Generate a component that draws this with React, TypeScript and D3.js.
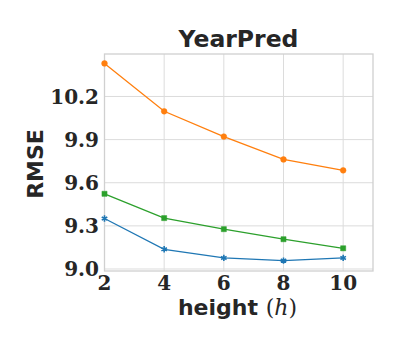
import React from "react";
import * as d3 from "d3";

const heights = [2, 4, 6, 8, 10];
const seriesBlue = [9.351, 9.137, 9.077, 9.058, 9.077];
const seriesOrange = [10.43, 10.097, 9.921, 9.762, 9.686];
const seriesGreen = [9.523, 9.354, 9.277, 9.207, 9.144];
const xTicks = [2, 4, 6, 8, 10];
const yTicks = [9.0, 9.3, 9.6, 9.9, 10.2];

const W = 400, H = 350;
const left = 104.5, right = 373, top = 54, bottom = 271;

export default function App() {
  const x = d3.scaleLinear().domain([2, 11]).range([left, right]);
  const y = d3.scaleLinear().domain([8.986, 10.4955]).range([bottom, top]);
  const line = d3.line<number>().x((_, i) => x(heights[i])).y((d) => y(d));
  const series = [
    { vals: seriesBlue, color: "#1f77b4", marker: "star" },
    { vals: seriesGreen, color: "#2ca02c", marker: "square" },
    { vals: seriesOrange, color: "#ff7f0e", marker: "circle" },
  ];
  const star = d3.symbol().type(d3.symbolAsterisk).size(28)();
  const sq = d3.symbol().type(d3.symbolSquare).size(26)();
  const circ = d3.symbol().type(d3.symbolCircle).size(26)();
  return (
    <svg width={W} height={H} style={{ position: "absolute", left: 0, top: 0, background: "#fff" }}>
      <rect x={0} y={0} width={W} height={H} fill="#fff" />
      {xTicks.map((t) => (
        <line key={"gx" + t} x1={x(t)} x2={x(t)} y1={top} y2={bottom} stroke="#dcdcdc" strokeWidth={1} />
      ))}
      {yTicks.map((t) => (
        <line key={"gy" + t} x1={left} x2={right} y1={y(t)} y2={y(t)} stroke="#dcdcdc" strokeWidth={1} />
      ))}
      <rect x={left} y={top} width={right - left} height={bottom - top} fill="none" stroke="#d0d0d0" strokeWidth={1.3} />
      {series.map((s, si) => (
        <g key={si}>
          <path d={line(s.vals) || ""} fill="none" stroke={s.color} strokeWidth={1.3} />
          {s.vals.map((v, i) => (
            <path
              key={i}
              transform={`translate(${x(heights[i])},${y(v)})`}
              d={s.marker === "star" ? star! : s.marker === "square" ? sq! : circ!}
              fill={s.color}
              stroke={s.color}
              strokeWidth={s.marker === "star" ? 1.6 : 0.5}
            />
          ))}
        </g>
      ))}
      {xTicks.map((t) => (
        <text key={"tx" + t} x={x(t)} y={290} textAnchor="middle" fontFamily="DejaVu Serif" fontWeight="bold" fontSize={20} fill="#262626">
          {t}
        </text>
      ))}
      {yTicks.map((t) => (
        <text key={"ty" + t} x={99} y={y(t)} dy="0.36em" textAnchor="end" fontFamily="DejaVu Serif" fontWeight="bold" fontSize={20} fill="#262626">
          {d3.format(".1f")(t)}
        </text>
      ))}
      <text x={238.5} y={47} textAnchor="middle" fontFamily="DejaVu Sans" fontWeight="bold" fontSize={23.5} fill="#262626">
        YearPred
      </text>
      <text transform={`translate(43,164) rotate(-90)`} textAnchor="middle" fontFamily="DejaVu Sans" fontWeight="bold" fontSize={22} fill="#262626">
        RMSE
      </text>
      <text x={237.5} y={315} textAnchor="middle" fontSize={22} fill="#262626">
        <tspan fontFamily="DejaVu Sans" fontWeight="bold">height </tspan>
        <tspan fontFamily="DejaVu Serif">(</tspan>
        <tspan fontFamily="DejaVu Serif" fontStyle="italic">h</tspan>
        <tspan fontFamily="DejaVu Serif">)</tspan>
      </text>
    </svg>
  );
}
